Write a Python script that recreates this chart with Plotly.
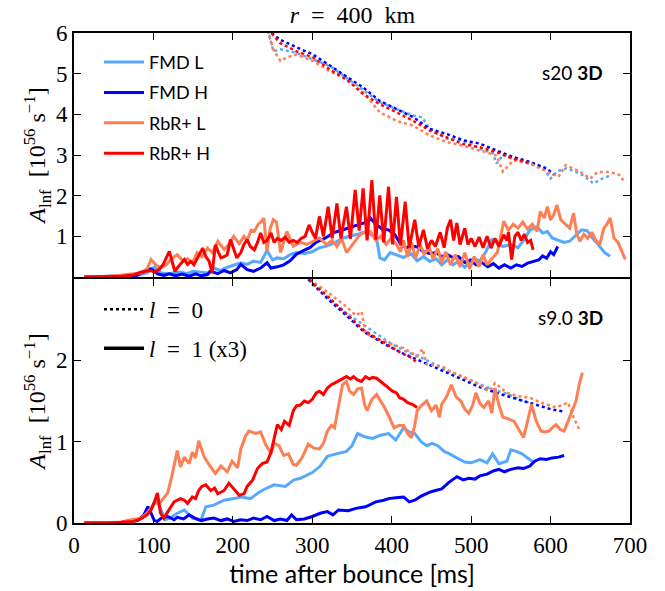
import plotly.graph_objects as go
from plotly.subplots import make_subplots

# ---------------- s20 3D (top panel) ----------------
# l = 1 amplitudes (x3), solid lines
s20_fmdL_t = [13, 40, 60, 80, 92, 101, 110, 118, 126, 134, 142, 150, 160, 168, 176, 184, 193, 201, 210, 218, 226, 235, 243, 250, 256, 264, 272, 280, 290, 300, 309, 318, 328, 339, 348, 357, 368, 373, 381, 385, 391, 398, 406, 415, 424, 432, 440, 448, 456, 463, 470, 477, 484, 492, 502, 511, 518, 526, 533, 540, 550, 559, 566, 574, 579, 583, 590, 596, 602, 610, 617, 624, 631, 639, 646, 653, 660, 668, 675]
s20_fmdL_l1 = [0, 0.01, 0.02, 0.05, 0.1, 0.24, 0.1, 0.08, 0.1, 0.12, 0.08, 0.14, 0.12, 0.1, 0.22, 0.16, 0.24, 0.3, 0.35, 0.31, 0.39, 0.36, 0.65, 0.42, 0.47, 0.45, 0.55, 0.6, 0.58, 0.62, 0.72, 0.76, 0.84, 0.96, 1.0, 1.05, 1.12, 1.06, 0.95, 0.47, 0.42, 0.6, 0.55, 0.48, 0.58, 0.4, 0.5, 0.38, 0.45, 0.3, 0.42, 0.3, 0.38, 0.24, 0.45, 0.4, 0.6, 0.92, 0.85, 0.75, 0.8, 0.72, 0.9, 1.15, 1.2, 1.24, 1.08, 1.12, 0.96, 0.9, 0.85, 0.88, 1.0, 1.16, 1.14, 0.95, 0.8, 0.6, 0.51]

s20_fmdH_t = [13, 40, 60, 80, 92, 97, 105, 113, 120, 128, 136, 145, 153, 160, 168, 172, 181, 189, 197, 205, 210, 218, 226, 235, 243, 248, 256, 264, 272, 280, 290, 297, 305, 313, 320, 328, 337, 345, 352, 360, 368, 373, 380, 388, 396, 404, 410, 418, 425, 432, 440, 448, 456, 463, 470, 477, 484, 492, 499, 506, 513, 521, 528, 535, 542, 550, 557, 564, 571, 578, 585, 590, 595, 600, 604, 609]
s20_fmdH_l1 = [0, 0.01, 0.02, 0.04, 0.18, 0.2, 0.08, 0.04, 0.08, 0.03, 0.07, 0.02, 0.08, 0.03, 0.06, 0.14, 0.08, 0.16, 0.1, 0.18, 0.31, 0.18, 0.14, 0.22, 0.35, 0.22, 0.25, 0.3, 0.4, 0.56, 0.66, 0.72, 0.86, 0.92, 1.0, 1.1, 1.15, 1.2, 1.26, 1.3, 1.34, 1.45, 1.3, 1.18, 1.16, 1.04, 0.85, 0.72, 0.76, 0.74, 0.62, 0.58, 0.6, 0.5, 0.55, 0.48, 0.5, 0.36, 0.42, 0.3, 0.36, 0.25, 0.33, 0.22, 0.3, 0.22, 0.3, 0.26, 0.34, 0.38, 0.42, 0.52, 0.46, 0.62, 0.55, 0.75]

s20_rbrL_t = [13, 40, 55, 70, 84, 92, 97, 103, 109, 116, 123, 130, 137, 143, 149, 155, 161, 168, 174, 181, 189, 195, 201, 208, 214, 218, 223, 227, 232, 236, 239, 243, 247, 251, 255, 260, 268, 276, 285, 293, 301, 309, 318, 325, 331, 337, 343, 352, 360, 367, 373, 380, 386, 393, 399, 406, 411, 415, 420, 425, 430, 436, 441, 447, 452, 458, 463, 468, 474, 480, 486, 492, 498, 504, 510, 515, 520, 526, 533, 541, 547, 553, 559, 565, 571, 577, 583, 587, 592, 596, 600, 604, 608, 613, 618, 624, 629, 633, 637, 642, 647, 652, 657, 662, 667, 671, 675, 680, 685, 690, 694]
s20_rbrL_l1 = [0, 0.01, 0.04, 0.08, 0.1, 0.2, 0.43, 0.3, 0.22, 0.3, 0.45, 0.55, 0.4, 0.45, 0.35, 0.6, 0.5, 0.71, 0.6, 0.88, 0.68, 0.8, 1.0, 0.82, 1.0, 0.9, 1.15, 1.12, 1.3, 1.37, 1.45, 0.63, 1.2, 1.41, 1.35, 0.6, 1.12, 0.76, 0.85, 0.8, 0.88, 0.96, 0.8, 0.9, 0.75, 0.95, 0.6, 0.82, 1.04, 1.1, 1.12, 0.9, 1.0, 0.8, 0.95, 0.8, 0.62, 0.9, 0.5, 0.85, 0.47, 0.8, 0.55, 0.75, 0.45, 0.7, 0.35, 0.62, 0.3, 0.55, 0.25, 0.6, 0.2, 0.5, 0.25, 0.55, 0.3, 0.45, 0.6, 1.37, 1.15, 1.3, 1.2, 1.35, 1.18, 1.3, 1.12, 1.61, 1.45, 1.73, 1.4, 1.53, 1.77, 1.4, 1.3, 1.2, 1.57, 1.05, 0.88, 1.05, 0.95, 1.1, 0.9, 0.8, 1.2, 1.3, 1.45, 0.95, 0.85, 0.63, 0.43]

s20_rbrH_t = [13, 40, 60, 75, 84, 92, 97, 101, 107, 112, 116, 120, 124, 127, 131, 136, 139, 143, 147, 151, 155, 159, 162, 166, 170, 174, 178, 182, 185, 189, 193, 197, 201, 205, 210, 214, 218, 222, 227, 231, 235, 239, 243, 248, 252, 256, 261, 266, 271, 276, 281, 286, 291, 296, 300, 304, 309, 314, 320, 325, 331, 336, 343, 348, 354, 359, 364, 369, 375, 380, 385, 390, 396, 401, 406, 411, 417, 422, 429, 434, 440, 445, 450, 455, 461, 466, 470, 474, 478, 482, 486, 492, 496, 500, 505, 510, 515, 520, 525, 530, 535, 541, 545, 547, 551, 555, 559, 563, 567, 571, 575, 578]
s20_rbrH_l1 = [0, 0.01, 0.02, 0.05, 0.12, 0.15, 0.16, 0.12, 0.18, 0.3, 0.45, 0.63, 0.35, 0.14, 0.25, 0.35, 0.43, 0.31, 0.38, 0.3, 0.45, 0.6, 0.71, 0.5, 0.39, 0.1, 0.79, 0.6, 0.47, 0.5, 0.55, 0.92, 0.7, 0.47, 0.6, 0.8, 0.92, 0.75, 0.67, 0.85, 1.08, 0.85, 0.9, 1.08, 0.85, 0.95, 0.9, 0.98, 0.85, 0.9, 0.85, 0.95, 1.0, 1.28, 1.1, 0.95, 1.49, 1.0, 1.73, 0.95, 1.81, 0.95, 1.73, 0.94, 2.14, 1.14, 2.18, 0.9, 2.38, 0.92, 2.01, 0.85, 2.22, 0.8, 1.97, 0.78, 1.85, 0.72, 1.41, 0.75, 1.16, 0.7, 0.9, 0.75, 1.1, 0.72, 1.2, 1.41, 0.9, 1.33, 0.8, 1.2, 0.8, 0.95, 0.75, 0.98, 0.72, 1.0, 0.71, 0.95, 0.75, 1.04, 0.9, 1.1, 0.43, 1.0, 1.1, 0.9, 1.05, 0.85, 0.9, 0.67]

# l = 0 amplitudes, dotted lines
s20_fmdL_l0_t = [244, 251, 260, 270, 280, 301, 322, 343, 364, 385, 406, 427, 438, 448, 469, 490, 511, 527, 532, 540, 553, 574, 590, 600, 608, 620, 630, 641, 654, 663, 675]
s20_fmdL_l0 = [6.1, 5.55, 5.6, 5.55, 5.51, 5.35, 5.19, 4.9, 4.6, 4.3, 4.13, 3.97, 3.93, 3.64, 3.4, 3.35, 3.15, 3.05, 2.79, 3.0, 2.9, 2.79, 2.7, 2.42, 2.6, 2.67, 2.6, 2.5, 2.3, 2.4, 2.5]

s20_fmdH_l0_t = [243, 259, 280, 301, 322, 343, 364, 385, 406, 427, 448, 469, 490, 511, 532, 553, 574, 595, 605]
s20_fmdH_l0 = [6.1, 5.84, 5.65, 5.47, 5.2, 4.94, 4.66, 4.33, 4.13, 3.93, 3.64, 3.52, 3.36, 3.28, 3.11, 2.95, 2.83, 2.67, 2.5]

s20_rbrL_l0_t = [244, 251, 260, 268, 280, 301, 322, 343, 364, 385, 406, 427, 448, 469, 490, 511, 532, 540, 553, 574, 595, 610, 619, 637, 650, 659, 675, 688, 693]
s20_rbrL_l0 = [6.05, 5.59, 5.31, 5.4, 5.47, 5.31, 5.06, 4.86, 4.54, 4.05, 3.84, 3.72, 3.48, 3.32, 3.23, 3.11, 2.99, 2.59, 2.87, 2.79, 2.6, 2.46, 2.75, 2.59, 2.42, 2.58, 2.58, 2.5, 2.32]

s20_rbrH_l0_t = [244, 259, 280, 301, 322, 343, 364, 385, 406, 427, 448, 469, 490, 511, 532, 553, 576]
s20_rbrH_l0 = [6.1, 5.76, 5.55, 5.4, 5.1, 4.86, 4.5, 4.25, 4.05, 3.84, 3.6, 3.44, 3.27, 3.19, 3.07, 2.91, 2.79]

# ---------------- s9.0 3D (bottom panel) ----------------
s9_fmdL_t = [13, 40, 60, 80, 88, 96, 103, 109, 115, 122, 130, 139, 149, 160, 166, 176, 189, 201, 210, 222, 235, 243, 252, 266, 277, 285, 300, 310, 319, 330, 343, 350, 357, 366, 376, 386, 396, 405, 415, 422, 429, 437, 444, 451, 458, 466, 473, 482, 492, 500, 511, 520, 527, 535, 545, 550, 557, 564, 571, 578]
s9_fmdL_l1 = [0, 0, 0.01, 0.03, 0.08, 0.14, 0.3, 0.16, 0.04, 0.07, 0.12, 0.16, 0.06, 0.04, 0.2, 0.22, 0.28, 0.3, 0.32, 0.3, 0.39, 0.43, 0.47, 0.45, 0.53, 0.55, 0.62, 0.7, 0.82, 0.85, 0.88, 0.95, 1.1, 1.06, 1.04, 1.08, 1.1, 1.02, 1.17, 1.12, 1.1, 1.0, 0.95, 0.98, 0.95, 0.88, 0.85, 0.8, 0.75, 0.74, 0.78, 0.74, 0.85, 0.73, 0.76, 0.9, 0.88, 0.85, 0.8, 0.75]

s9_fmdH_t = [13, 40, 60, 80, 88, 93, 97, 101, 105, 110, 118, 126, 130, 138, 145, 152, 160, 168, 176, 185, 193, 201, 210, 218, 226, 235, 243, 252, 260, 268, 274, 280, 290, 300, 310, 319, 326, 333, 345, 355, 367, 380, 390, 396, 405, 415, 422, 429, 437, 448, 455, 463, 472, 482, 490, 497, 505, 511, 520, 528, 535, 542, 550, 559, 566, 574, 580, 587, 595, 602, 610, 617]
s9_fmdH_l1 = [0, 0, 0.01, 0.03, 0.1, 0.2, 0.12, 0.03, 0.02, 0.06, 0.08, 0.04, 0.07, 0.05, 0.1, 0.06, 0.03, 0.05, 0.06, 0.03, 0.05, 0.02, 0.04, 0.03, 0.06, 0.04, 0.08, 0.03, 0.05, 0.03, 0.1, 0.04, 0.05, 0.08, 0.12, 0.14, 0.1, 0.16, 0.15, 0.18, 0.2, 0.26, 0.28, 0.3, 0.31, 0.32, 0.26, 0.28, 0.33, 0.38, 0.4, 0.42, 0.5, 0.57, 0.53, 0.55, 0.54, 0.58, 0.6, 0.64, 0.66, 0.63, 0.66, 0.68, 0.67, 0.7, 0.76, 0.79, 0.78, 0.8, 0.81, 0.83]

s9_rbrL_t = [13, 40, 60, 67, 84, 92, 101, 109, 118, 124, 130, 134, 139, 145, 149, 153, 157, 164, 172, 178, 185, 193, 199, 206, 210, 216, 220, 229, 235, 241, 248, 252, 258, 264, 270, 276, 280, 287, 295, 302, 309, 314, 319, 324, 328, 333, 338, 343, 347, 352, 357, 362, 366, 369, 375, 381, 386, 391, 397, 403, 409, 415, 420, 425, 429, 432, 438, 444, 450, 456, 460, 463, 469, 475, 481, 487, 492, 497, 502, 506, 511, 516, 522, 526, 530, 535, 540, 547, 554, 560, 566, 571, 576, 582, 588, 593, 598, 603, 607, 612, 617, 622, 627, 632, 636, 640]
s9_rbrL_l1 = [0, 0, 0.01, 0.03, 0.06, 0.12, 0.24, 0.26, 0.37, 0.61, 0.89, 0.69, 0.81, 0.73, 0.87, 0.8, 1.01, 0.81, 0.69, 0.61, 0.7, 0.63, 0.76, 0.68, 0.91, 1.07, 1.13, 1.1, 1.12, 0.97, 0.85, 0.98, 0.95, 0.83, 0.85, 0.72, 0.71, 0.8, 0.97, 0.92, 0.91, 0.98, 1.13, 1.2, 1.17, 1.45, 1.7, 1.74, 1.62, 1.58, 1.65, 1.66, 1.45, 1.38, 1.52, 1.58, 1.5, 1.42, 1.3, 1.17, 1.2, 1.2, 1.1, 1.05, 1.2, 1.38, 1.45, 1.5, 1.38, 1.45, 1.3, 1.46, 1.55, 1.7, 1.55, 1.5, 1.4, 1.35, 1.45, 1.6, 1.47, 1.42, 1.5, 1.35, 1.66, 1.45, 1.3, 1.28, 1.25, 1.15, 1.05, 1.25, 1.46, 1.25, 1.13, 1.12, 1.13, 1.18, 1.21, 1.15, 1.13, 1.25, 1.38, 1.5, 1.7, 1.85]

s9_rbrH_t = [13, 40, 60, 75, 84, 92, 97, 101, 105, 109, 113, 120, 126, 134, 139, 143, 149, 153, 157, 161, 166, 172, 177, 181, 189, 195, 201, 208, 214, 218, 225, 231, 237, 243, 248, 252, 256, 261, 265, 271, 276, 280, 285, 290, 295, 300, 305, 309, 314, 319, 324, 328, 333, 338, 343, 348, 352, 357, 362, 367, 372, 376, 381, 386, 391, 396, 401, 406, 410, 415, 420, 426, 432]
s9_rbrH_l1 = [0, 0, 0.01, 0.02, 0.05, 0.1, 0.16, 0.25, 0.37, 0.12, 0.06, 0.16, 0.26, 0.3, 0.28, 0.24, 0.32, 0.3, 0.4, 0.45, 0.47, 0.4, 0.43, 0.36, 0.4, 0.49, 0.42, 0.34, 0.36, 0.45, 0.53, 0.67, 0.73, 0.75, 0.87, 1.05, 1.21, 1.15, 1.25, 1.2, 1.38, 1.44, 1.45, 1.5, 1.48, 1.52, 1.6, 1.62, 1.58, 1.66, 1.7, 1.72, 1.75, 1.78, 1.8, 1.77, 1.8, 1.76, 1.74, 1.8, 1.77, 1.79, 1.78, 1.74, 1.7, 1.66, 1.62, 1.6, 1.54, 1.52, 1.48, 1.46, 1.42]

s9_fmdL_l0_t = [290, 300, 320, 340, 355, 370, 385, 400, 420, 440, 460, 480, 500, 520, 535, 550, 565, 578]
s9_fmdL_l0 = [3.05, 2.93, 2.76, 2.6, 2.5, 2.4, 2.3, 2.2, 2.1, 2.02, 1.92, 1.83, 1.75, 1.67, 1.62, 1.57, 1.5, 1.47]

s9_fmdH_l0_t = [290, 300, 319, 343, 365, 391, 415, 439, 463, 487, 511, 535, 559, 583, 600, 617]
s9_fmdH_l0 = [3.05, 2.95, 2.76, 2.55, 2.35, 2.2, 2.08, 1.98, 1.88, 1.78, 1.67, 1.59, 1.52, 1.45, 1.4, 1.37]

s9_rbrL_l0_t = [292, 300, 319, 343, 355, 362, 367, 391, 415, 432, 439, 444, 463, 472, 487, 511, 522, 530, 545, 559, 574, 588, 607, 622, 629, 636]
s9_rbrL_l0 = [3.05, 2.97, 2.84, 2.66, 2.55, 2.6, 2.33, 2.23, 2.15, 2.05, 2.14, 1.95, 1.93, 1.87, 1.81, 1.7, 1.62, 1.72, 1.6, 1.56, 1.54, 1.48, 1.42, 1.48, 1.3, 1.15]

s9_rbrH_l0_t = [292, 300, 320, 340, 365, 390, 410, 425, 432]
s9_rbrH_l0 = [3.05, 2.95, 2.78, 2.6, 2.37, 2.22, 2.1, 2.03, 1.97]

# ---------------- axes / labels ----------------
x_ticks = [0, 100, 200, 300, 400, 500, 600, 700]
top_yticks = [1, 2, 3, 4, 5, 6]
bottom_yticks = [0, 1, 2]

LBLUE = "#55AAFF"
DBLUE = "#0000FF"
SALMON = "#FF7F55"
RED = "#FF0000"

SERIF = "Liberation Serif"
SANS = "Lato"
SP = "&nbsp;&nbsp;"

fig = make_subplots(rows=2, cols=1, shared_xaxes=True, vertical_spacing=0)

models = [
    ("FMD L", LBLUE,
     (s20_fmdL_l0_t, s20_fmdL_l0, s20_fmdL_t, s20_fmdL_l1),
     (s9_fmdL_l0_t, s9_fmdL_l0, s9_fmdL_t, s9_fmdL_l1)),
    ("FMD H", DBLUE,
     (s20_fmdH_l0_t, s20_fmdH_l0, s20_fmdH_t, s20_fmdH_l1),
     (s9_fmdH_l0_t, s9_fmdH_l0, s9_fmdH_t, s9_fmdH_l1)),
    ("RbR+ L", SALMON,
     (s20_rbrL_l0_t, s20_rbrL_l0, s20_rbrL_t, s20_rbrL_l1),
     (s9_rbrL_l0_t, s9_rbrL_l0, s9_rbrL_t, s9_rbrL_l1)),
    ("RbR+ H", RED,
     (s20_rbrH_l0_t, s20_rbrH_l0, s20_rbrH_t, s20_rbrH_l1),
     (s9_rbrH_l0_t, s9_rbrH_l0, s9_rbrH_t, s9_rbrH_l1)),
]

for name, color, top, bottom in models:
    for row, (t0, a0, t1, a1) in ((1, top), (2, bottom)):
        fig.add_trace(go.Scatter(x=t0, y=a0, mode="lines", showlegend=False,
                                 line=dict(color=color, width=2.5, dash="dot")),
                      row=row, col=1)
        fig.add_trace(go.Scatter(x=t1, y=a1, mode="lines", name=name,
                                 legendgroup=name, showlegend=(row == 1),
                                 line=dict(color=color, width=3)),
                      row=row, col=1)

# line-style key for the lower panel
fig.add_trace(go.Scatter(x=[None], y=[None], mode="lines", name=f"<i>l</i>{SP}={SP}0",
                         legend="legend2", legendgroup="l0",
                         line=dict(color="black", width=2.5, dash="dot")), row=2, col=1)
fig.add_trace(go.Scatter(x=[None], y=[None], mode="lines", name=f"<i>l</i>{SP}={SP}1 (x3)",
                         legend="legend2", legendgroup="l1",
                         line=dict(color="black", width=3.5)), row=2, col=1)

axis_common = dict(showline=True, linecolor="black", linewidth=2, mirror="allticks",
                   ticks="inside", ticklen=7, tickwidth=1, tickcolor="black",
                   showgrid=False, zeroline=False,
                   tickfont=dict(family=SERIF, size=23, color="black"))

fig.update_xaxes(range=[0, 700], tickvals=x_ticks, **axis_common)
fig.update_xaxes(showticklabels=False, row=1, col=1)
fig.update_xaxes(title=dict(text="time after bounce [ms]", standoff=4,
                            font=dict(family=SANS, size=25, color="black")), row=2, col=1)

ytitle = f"<i>A</i><sub>lnf</sub>{SP}[10<sup>56</sup> s<sup>−1</sup>]"
fig.update_yaxes(range=[0, 6], tickvals=top_yticks, row=1, col=1, **axis_common)
fig.update_yaxes(range=[0, 3], tickvals=bottom_yticks, row=2, col=1, **axis_common)
fig.update_yaxes(title=dict(text=ytitle, standoff=3,
                            font=dict(family=SERIF, size=24, color="black")))

# the two frames share one boundary line: leave a 2 px gap that both lines fill
gap = 1.0 / 494
fig.update_layout(yaxis=dict(domain=[0.5 + gap, 1]), yaxis2=dict(domain=[0, 0.5 - gap]))

fig.update_layout(
    width=665, height=591,
    margin=dict(l=74, r=35, t=33, b=64),
    paper_bgcolor="white", plot_bgcolor="white",
    title=dict(text=f"<i>r</i>{SP}={SP}400{SP}km", x=0.53, xanchor="center", y=0.976,
               yanchor="middle", font=dict(family=SERIF, size=24, color="black")),
    legend=dict(x=0.045, y=0.978, xanchor="left", yanchor="top", itemwidth=40,
                bgcolor="rgba(0,0,0,0)", tracegroupgap=4,
                font=dict(family=SANS, size=18, color="black")),
    legend2=dict(x=0.045, y=0.48, xanchor="left", yanchor="top", itemwidth=40,
                 bgcolor="rgba(0,0,0,0)", tracegroupgap=6,
                 font=dict(family=SERIF, size=23, color="black")),
    annotations=[
        dict(text="s20 <b>3D</b>", xref="paper", yref="paper", x=0.955, y=0.919,
             xanchor="right", yanchor="middle", showarrow=False,
             font=dict(family=SANS, size=19, color="black")),
        dict(text="s9.0 <b>3D</b>", xref="paper", yref="paper", x=0.955, y=0.419,
             xanchor="right", yanchor="middle", showarrow=False,
             font=dict(family=SANS, size=19, color="black")),
    ],
)

fig.write_html("out.html")
